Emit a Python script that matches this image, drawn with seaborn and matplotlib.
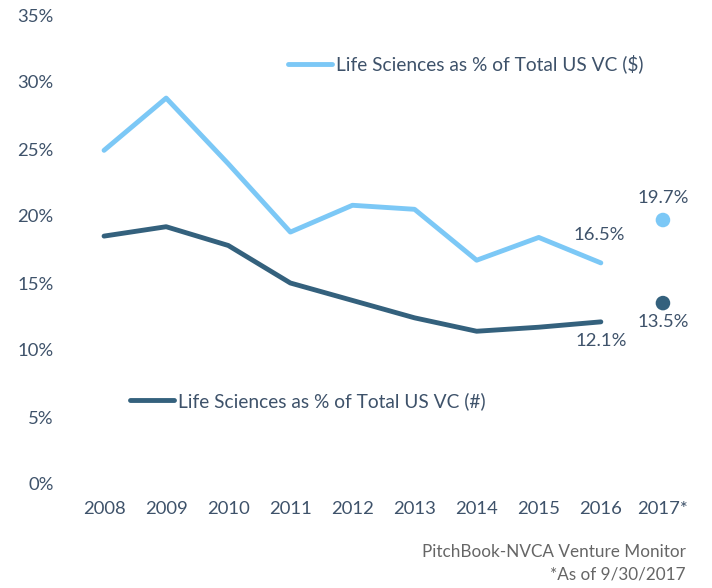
import numpy as np
import pandas as pd
import matplotlib
matplotlib.use("Agg")
import matplotlib.pyplot as plt
import seaborn as sns

years = ["2008", "2009", "2010", "2011", "2012", "2013", "2014", "2015", "2016"]
pct_dollars = [24.9, 28.8, 23.9, 18.8, 20.8, 20.5, 16.7, 18.4, 16.5]
pct_count = [18.5, 19.2, 17.8, 15.0, 13.7, 12.4, 11.4, 11.7, 12.1]
ytd_label = "2017*"
ytd_dollars = 19.7
ytd_count = 13.5

label_dollars = "Life Sciences as % of Total US VC ($)"
label_count = "Life Sciences as % of Total US VC (#)"

light = "#7CC8F6"
dark = "#34617D"
txt = "#3E526A"

sns.set_theme(style="white")
plt.rcParams["font.family"] = ["Lato", "DejaVu Sans"]

all_years = years + [ytd_label]
df = pd.DataFrame({
    "x": list(range(len(years))) * 2,
    "value": pct_dollars + pct_count,
    "series": [label_dollars] * len(years) + [label_count] * len(years),
})
pts = pd.DataFrame({
    "x": [len(years), len(years)],
    "value": [ytd_dollars, ytd_count],
    "series": [label_dollars, label_count],
})

fig = plt.figure(figsize=(7.12, 5.88), dpi=100)
ax = fig.add_axes([73 / 712, 1 - 484 / 588, 621 / 712, 469 / 588])

sns.lineplot(data=df, x="x", y="value", hue="series", palette=[light, dark],
             linewidth=3.5, ax=ax, legend=False)
sns.scatterplot(data=pts, x="x", y="value", hue="series", palette=[light, dark],
                s=110, edgecolor="none", ax=ax, legend=False)

ax.set_xlim(-0.5, len(all_years) - 0.5)
ax.set_ylim(0, 35)
ax.set_xticks(range(len(all_years)))
ax.set_xticklabels(all_years)
ax.set_yticks(range(0, 36, 5))
ax.set_yticklabels([f"{v}%" for v in range(0, 36, 5)])
ax.set_xlabel("")
ax.set_ylabel("")
for s in ax.spines.values():
    s.set_visible(False)
ax.tick_params(axis="both", length=0, colors=txt, labelsize=13.3)
ax.tick_params(axis="x", pad=12)
ax.tick_params(axis="y", pad=14)

# value labels
n = len(years)
ax.annotate(f"{pct_dollars[-1]}%", (n - 1, pct_dollars[-1]), xytext=(-1, 14),
            textcoords="offset points", ha="center", va="bottom", fontsize=13.3, color=txt)
ax.annotate(f"{pct_count[-1]}%", (n - 1, pct_count[-1]), xytext=(0, -8),
            textcoords="offset points", ha="center", va="top", fontsize=13.3, color=txt)
ax.annotate(f"{ytd_dollars}%", (n, ytd_dollars), xytext=(0, 10),
            textcoords="offset points", ha="center", va="bottom", fontsize=13.3, color=txt)
ax.annotate(f"{ytd_count}%", (n, ytd_count), xytext=(0, -8),
            textcoords="offset points", ha="center", va="top", fontsize=13.3, color=txt)

# legends placed inside the plot
h_light = plt.Line2D([], [], color=light, linewidth=3.5, solid_capstyle="round")
h_dark = plt.Line2D([], [], color=dark, linewidth=3.5, solid_capstyle="round")
fig.legend([h_light], [label_dollars], loc="center left",
           bbox_to_anchor=(288 / 712, 1 - 64 / 588), frameon=False, borderpad=0,
           borderaxespad=0, fontsize=13.8, handlelength=2.3, handletextpad=0.2,
           labelcolor=txt)
fig.legend([h_dark], [label_count], loc="center left",
           bbox_to_anchor=(130 / 712, 1 - 401 / 588), frameon=False, borderpad=0,
           borderaxespad=0, fontsize=13.8, handlelength=2.3, handletextpad=0.2,
           labelcolor=txt)

fig.text(686 / 712, 1 - 552 / 588, "PitchBook-NVCA Venture Monitor", ha="right",
         va="center", fontsize=12.3, color="#666666")
fig.text(686 / 712, 1 - 575 / 588, "*As of 9/30/2017", ha="right",
         va="center", fontsize=12.3, color="#666666")

fig.savefig("out.png", dpi=100)
